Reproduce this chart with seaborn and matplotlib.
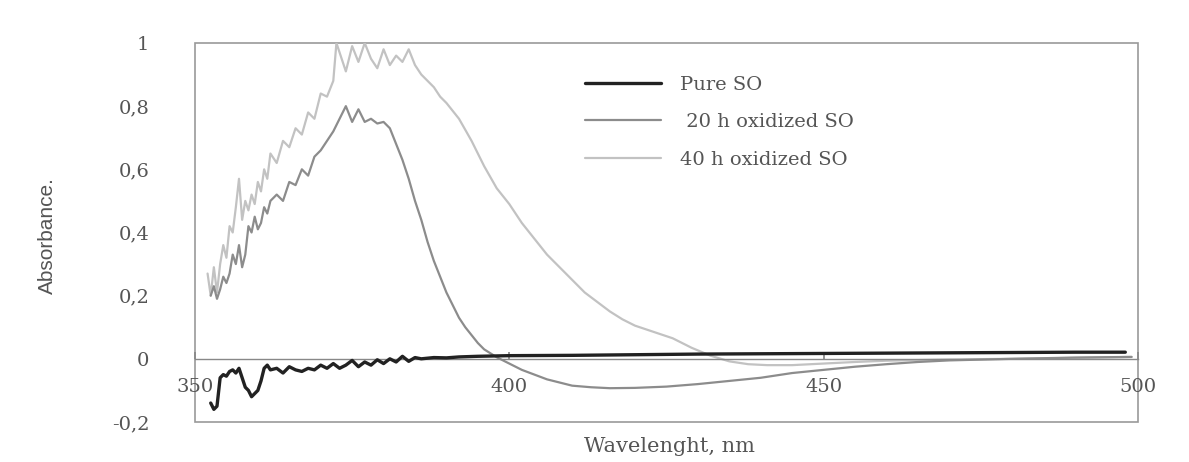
import matplotlib
matplotlib.use("Agg")
import matplotlib.pyplot as plt
from matplotlib.patches import Rectangle
import seaborn as sns
import pandas as pd

# ---------------- data ----------------
wl_pure = [352.5, 353.0, 353.5, 354.0, 354.5, 355.0, 355.5, 356.0, 356.5, 357.0,
           357.5, 358.0, 358.5, 359.0, 359.5, 360.0, 360.5, 361.0, 361.5, 362.0,
           363, 364, 365, 366, 367, 368, 369, 370, 371, 372,
           373, 374, 375, 376, 377, 378, 379, 380, 381, 382,
           383, 384, 385, 386, 388, 390, 392, 395, 400, 410,
           420, 430, 440, 450, 460, 470, 480, 490, 498]
abs_pure = [-0.14, -0.16, -0.15, -0.06, -0.05, -0.055, -0.04, -0.035, -0.045, -0.03,
            -0.06, -0.09, -0.10, -0.12, -0.11, -0.10, -0.07, -0.03, -0.02, -0.035,
            -0.03, -0.045, -0.025, -0.035, -0.04, -0.03, -0.035, -0.02, -0.03, -0.015,
            -0.03, -0.02, -0.005, -0.025, -0.01, -0.02, -0.003, -0.015, 0.0, -0.01,
            0.008, -0.008, 0.004, 0.0, 0.004, 0.003, 0.006, 0.008, 0.01, 0.011,
            0.013, 0.015, 0.016, 0.017, 0.018, 0.019, 0.02, 0.021, 0.021]

wl_20h = [352.5, 353.0, 353.5, 354.0, 354.5, 355.0, 355.5, 356.0, 356.5, 357.0,
          357.5, 358.0, 358.5, 359.0, 359.5, 360.0, 360.5, 361.0, 361.5, 362.0,
          363, 364, 365, 366, 367, 368, 369, 370, 371, 372,
          373, 374, 375, 376, 377, 378, 379, 380, 381, 382,
          383, 384, 385, 386, 387, 388, 389, 390, 391, 392,
          393, 394, 395, 396, 398, 400, 402, 404, 406, 408,
          410, 413, 416, 420, 425, 430, 435, 440, 445, 450,
          455, 460, 465, 470, 480, 490, 499]
abs_20h = [0.20, 0.23, 0.19, 0.22, 0.26, 0.24, 0.27, 0.33, 0.30, 0.36,
           0.29, 0.33, 0.42, 0.40, 0.45, 0.41, 0.43, 0.48, 0.46, 0.50,
           0.52, 0.50, 0.56, 0.55, 0.60, 0.58, 0.64, 0.66, 0.69, 0.72,
           0.76, 0.80, 0.75, 0.79, 0.75, 0.76, 0.745, 0.75, 0.73, 0.68,
           0.63, 0.57, 0.50, 0.44, 0.37, 0.31, 0.26, 0.21, 0.17, 0.13,
           0.10, 0.075, 0.05, 0.03, 0.005, -0.015, -0.035, -0.05, -0.065, -0.075,
           -0.085, -0.09, -0.093, -0.092, -0.088, -0.08, -0.07, -0.06, -0.045, -0.035,
           -0.025, -0.017, -0.01, -0.005, 0.0, 0.004, 0.006]

wl_40h = [352.0, 352.5, 353.0, 353.5, 354.0, 354.5, 355.0, 355.5, 356.0, 356.5,
          357.0, 357.5, 358.0, 358.5, 359.0, 359.5, 360.0, 360.5, 361.0, 361.5,
          362.0, 363, 364, 365, 366, 367, 368, 369, 370, 371,
          372, 372.5, 373, 374, 375, 376, 377, 378, 379, 380,
          381, 382, 383, 384, 385, 386, 387, 388, 389, 390,
          392, 394, 396, 398, 400, 402, 404, 406, 408, 410,
          412, 414, 416, 418, 420, 423, 426, 429, 432, 435,
          438, 441, 445, 450, 455, 460, 470, 480, 490, 499]
abs_40h = [0.27, 0.20, 0.29, 0.21, 0.30, 0.36, 0.32, 0.42, 0.40, 0.48,
           0.57, 0.44, 0.50, 0.47, 0.52, 0.49, 0.56, 0.53, 0.60, 0.57,
           0.65, 0.62, 0.69, 0.67, 0.73, 0.71, 0.78, 0.76, 0.84, 0.83,
           0.88, 1.0, 0.97, 0.91, 0.99, 0.94, 1.0, 0.95, 0.92, 0.98,
           0.93, 0.96, 0.94, 0.98, 0.93, 0.90, 0.88, 0.86, 0.83, 0.81,
           0.76, 0.69, 0.61, 0.54, 0.49, 0.43, 0.38, 0.33, 0.29, 0.25,
           0.21, 0.18, 0.15, 0.125, 0.105, 0.085, 0.065, 0.035, 0.01, -0.008,
           -0.017, -0.02, -0.02, -0.015, -0.01, -0.006, -0.002, 0.0, 0.003, 0.006]

labels = ["Pure SO", " 20 h oxidized SO", "40 h oxidized SO"]
x_ticks = [350, 400, 450, 500]
y_ticks = [-0.2, 0, 0.2, 0.4, 0.6, 0.8, 1]
y_tick_labels = ["-0,2", "0", "0,2", "0,4", "0,6", "0,8", "1"]

# ---------------- plot ----------------
sns.set_theme(style="white")
plt.rcParams["font.family"] = ["DejaVu Serif"]

fig = plt.figure(figsize=(11.89, 4.62), dpi=100)
ax = fig.add_axes([0.164, 0.0866, 0.793, 0.8204])

text_col = "#555555"
sns.lineplot(x=wl_40h, y=abs_40h, ax=ax, color="#c2c2c2", lw=1.6,
             sort=False, estimator=None, label=labels[2], zorder=1)
sns.lineplot(x=wl_20h, y=abs_20h, ax=ax, color="#8c8c8c", lw=1.6,
             sort=False, estimator=None, label=labels[1], zorder=2)
sns.lineplot(x=wl_pure, y=abs_pure, ax=ax, color="#222222", lw=2.4,
             sort=False, estimator=None, label=labels[0], zorder=3)

ax.set_xlim(350, 500)
ax.set_ylim(-0.2, 1.0)

# Excel-like axes: horizontal axis crossing at 0, box around the plot area
for s in ["left", "right", "top"]:
    ax.spines[s].set_visible(False)
ax.spines["bottom"].set_position(("data", 0))
ax.spines["bottom"].set_color("#888888")
ax.spines["bottom"].set_linewidth(1.0)
ax.add_patch(Rectangle((0, 0), 1, 1, transform=ax.transAxes, fill=False,
                       edgecolor="#999999", lw=1.2, zorder=0, clip_on=False))

ax.set_xticks(x_ticks)
ax.set_xticklabels([str(v) for v in x_ticks])
ax.set_yticks(y_ticks)
ax.set_yticklabels(y_tick_labels)
ax.tick_params(axis="x", direction="in", length=5, color="#888888",
               pad=14, labelsize=14, labelcolor=text_col, bottom=True)
ax.tick_params(axis="y", length=0, pad=33, labelsize=14, labelcolor=text_col)

ax.set_xlabel("")
ax.set_ylabel("")
fig.text(0.040, 0.49, "Absorbance.", rotation=90, ha="center", va="center",
         fontsize=15, color=text_col,
         family=["Liberation Sans Narrow", "Liberation Sans", "DejaVu Sans"])
fig.text(0.563, 0.033, "Wavelenght, nm", ha="center", va="center",
         fontsize=15, color=text_col)

handles, labs = ax.get_legend_handles_labels()
order = [labs.index(l) for l in labels]
leg = ax.legend([handles[i] for i in order], [labs[i] for i in order],
                loc="upper left", bbox_to_anchor=(0.484, 0.857),
                bbox_transform=fig.transFigure, frameon=False,
                fontsize=14, handlelength=3.9, handletextpad=1.0,
                labelspacing=1.0, borderpad=0)
for t in leg.get_texts():
    t.set_color(text_col)

fig.savefig("out.png", dpi=100, facecolor="white")
